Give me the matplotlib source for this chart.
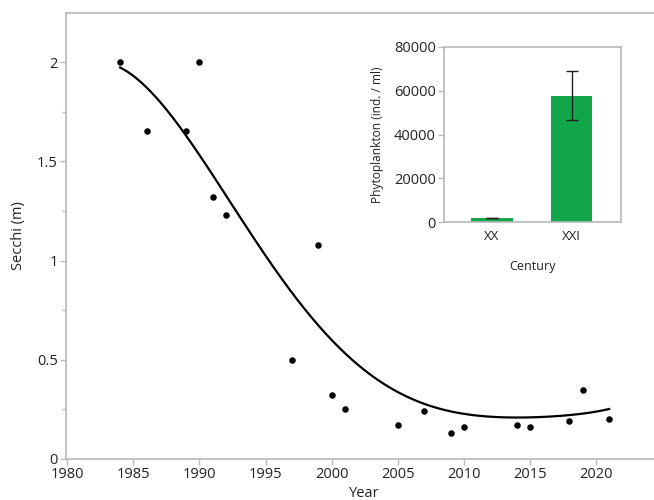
import numpy as np
import matplotlib
matplotlib.use("Agg")
import matplotlib.pyplot as plt
from matplotlib.ticker import MultipleLocator

plt.rcParams['font.family'] = ['Open Sans', 'DejaVu Sans']

# observed Secchi depths
years = [1984, 1986, 1989, 1990, 1991, 1992, 1997, 1999, 2000, 2001,
         2005, 2007, 2009, 2010, 2014, 2015, 2018, 2019, 2021]
secchi = [2.0, 1.65, 1.65, 2.0, 1.32, 1.23, 0.50, 1.08, 0.32, 0.25,
          0.17, 0.24, 0.13, 0.16, 0.17, 0.16, 0.19, 0.35, 0.20]

# fitted smooth trend
fit_years = [1984, 1986.5, 1989, 1991.7, 1993.8, 1995.5, 1997.1, 1999.4, 2001.4,
             2003.9, 2006.5, 2009, 2010.5, 2012.5, 2014.3, 2016, 2018, 2021]
fit_secchi = [1.98, 1.81, 1.65, 1.38, 1.12, 0.97, 0.835, 0.633, 0.515,
              0.39, 0.29, 0.238, 0.222, 0.21, 0.205, 0.212, 0.227, 0.25]

# inset bar chart
centuries = ["XX", "XXI"]
phyto = [1800, 57800]
phyto_err = [150, 11400]

spine_c = "#b4b8bc"
green = "#12a54a"
txt_c = "#222222"

fig = plt.figure(figsize=(6.54, 5.0), dpi=100)
ax = fig.add_axes([66/654, 41/500, (662-66)/654, (459-13)/500])
ax.set_xlim(1979.9, 2025)
ax.set_ylim(0, 2.247)

# smooth line through the read trend values
fx = np.array(fit_years, float)
coef = np.polyfit(fx - 2000, np.array(fit_secchi), 6)
xs = np.linspace(fx.min(), fx.max(), 300)
ax.plot(xs, np.polyval(coef, xs - 2000), color="black", lw=1.6, zorder=2)
ax.scatter(years, secchi, s=22, color="black", zorder=3, linewidths=0)

ax.set_xticks(np.arange(1980, 2021, 5))
ax.set_yticks([0, 0.5, 1, 1.5, 2])
ax.set_yticklabels(["0", "0.5", "1", "1.5", "2"])
ax.yaxis.set_minor_locator(MultipleLocator(0.25))
for s in ax.spines.values():
    s.set_color(spine_c)
    s.set_linewidth(1.2)
ax.tick_params(which="both", color=spine_c, labelsize=10.5, length=4, width=1,
               pad=2, labelcolor=txt_c)
ax.tick_params(which="minor", length=3)
ax.set_xlabel("Year", fontsize=10.5, color=txt_c, labelpad=2.5)
ax.set_ylabel("Secchi (m)", fontsize=10.5, color=txt_c, labelpad=8)

# inset
ins = fig.add_axes([444/654, (500-222)/500, (621-444)/654, (222-47)/500])
ins.bar([0, 1], phyto, width=0.525, color=green, zorder=2)
ins.errorbar([0, 1], phyto, yerr=phyto_err, fmt="none", ecolor=txt_c,
             elinewidth=1, capsize=4, capthick=1, zorder=3)
ins.set_xlim(-0.6, 1.62)
ins.set_ylim(0, 80000)
ins.set_xticks([0, 1])
ins.set_xticklabels(centuries)
ins.set_yticks([0, 20000, 40000, 60000, 80000])
for s in ins.spines.values():
    s.set_color(spine_c)
    s.set_linewidth(1.2)
ins.tick_params(color=spine_c, labelsize=10.5, length=4, width=1, pad=2,
                labelcolor=txt_c)
ins.tick_params(axis="x", length=0, pad=6, labelsize=9.5)
ins.set_xlabel("Century", fontsize=9, color=txt_c, labelpad=12)
ins.set_ylabel("Phytoplankton (ind. / ml)", fontsize=8.6, color=txt_c, labelpad=7)

fig.savefig("out.png", dpi=100)
